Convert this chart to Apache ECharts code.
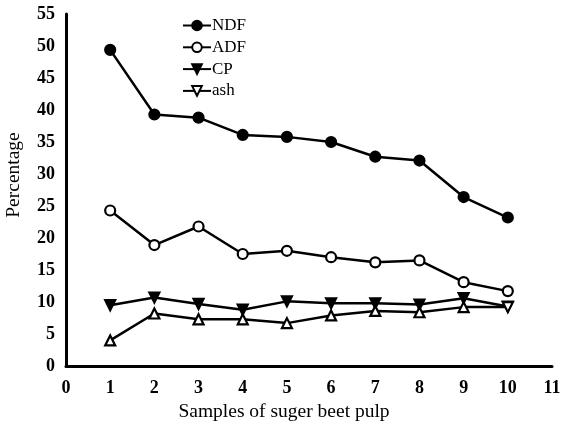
<!DOCTYPE html>
<html><head><meta charset="utf-8">
<script src="https://cdn.jsdelivr.net/npm/echarts@6/dist/echarts.min.js"></script>
<style>html,body{margin:0;padding:0;background:#fff}#c{width:563px;height:422px}</style>
</head><body><div id="c"></div>
<script>
var samples = [1,2,3,4,5,6,7,8,9,10];
var NDF = [49.4, 39.3, 38.8, 36.1, 35.8, 35.0, 32.7, 32.1, 26.4, 23.2];
var ADF = [24.3, 18.9, 21.8, 17.5, 18.0, 17.0, 16.2, 16.5, 13.1, 11.7];
var CP  = [9.5, 10.7, 9.7, 8.8, 10.1, 9.8, 9.8, 9.6, 10.6, 9.3];
var ash = [4.0, 8.2, 7.3, 7.3, 6.7, 7.9, 8.6, 8.4, 9.2, 9.2];
var seriesNames = ['NDF','ADF','CP','ash'];
var xTicks = [0,1,2,3,4,5,6,7,8,9,10,11];
var yTicks = [0,5,10,15,20,25,30,35,40,45,50,55];

function pairs(vals){ return samples.map(function(s,i){ return [s, vals[i]]; }); }
var font = 'Liberation Serif';
var chart = echarts.init(document.getElementById('c'), null, {renderer:'canvas'});
var ashData = pairs(ash).map(function(p,i){
  return i === ash.length-1 ? {value:p, symbolRotate:180} : {value:p, symbolRotate:0};
});
function base(name, data, symbol, fill, rot){
  return {
    name:name, type:'line', data:data, symbol:symbol, symbolSize:10, symbolRotate:rot||0,
    showAllSymbol:true,
    lineStyle:{color:'#000', width:2.5},
    itemStyle:{color:fill, borderColor:'#000', borderWidth:2.2},
    emphasis:{disabled:true}, animation:false
  };
}
chart.setOption({
  backgroundColor:'#fff',
  animation:false,
  grid:{left:66, right:11, top:14, bottom:56, containLabel:false, outerBoundsMode:'none'},
  legend:{
    orient:'vertical', left:177, top:12, itemGap:4.8, itemWidth:28, itemHeight:12,
    data:seriesNames,
    textStyle:{fontFamily:font, fontSize:17, color:'#000', padding:[0,0,0,-4]},
    inactiveColor:'#000'
  },
  xAxis:{
    type:'value', min:xTicks[0], max:xTicks[xTicks.length-1], interval:1,
    name:'Samples of suger beet pulp', nameLocation:'middle', nameGap:35,
    nameTextStyle:{fontFamily:font, fontSize:19.5, color:'#000', padding:[0,50,0,0]},
    axisLine:{show:true, onZero:false, lineStyle:{color:'#000', width:3}},
    axisTick:{show:false}, splitLine:{show:false},
    axisLabel:{fontFamily:font, fontSize:18, fontWeight:'bold', color:'#000', margin:13}
  },
  yAxis:{
    type:'value', min:yTicks[0], max:yTicks[yTicks.length-1], interval:5,
    name:'Percentage', nameLocation:'middle', nameGap:42, nameRotate:90,
    nameTextStyle:{fontFamily:font, fontSize:19.5, color:'#000', padding:[0,0,0,30]},
    axisLine:{show:true, lineStyle:{color:'#000', width:3}},
    axisTick:{show:false}, splitLine:{show:false},
    axisLabel:{fontFamily:font, fontSize:18, fontWeight:'bold', color:'#000', margin:11, padding:[8,0,0,0]}
  },
  series:[
    base('NDF', pairs(NDF), 'circle', '#000'),
    base('ADF', pairs(ADF), 'circle', '#fff'),
    base('CP', pairs(CP), 'triangle', '#000', 180),
    base('ash', ashData, 'triangle', '#fff', 180)
  ]
});
</script></body></html>
